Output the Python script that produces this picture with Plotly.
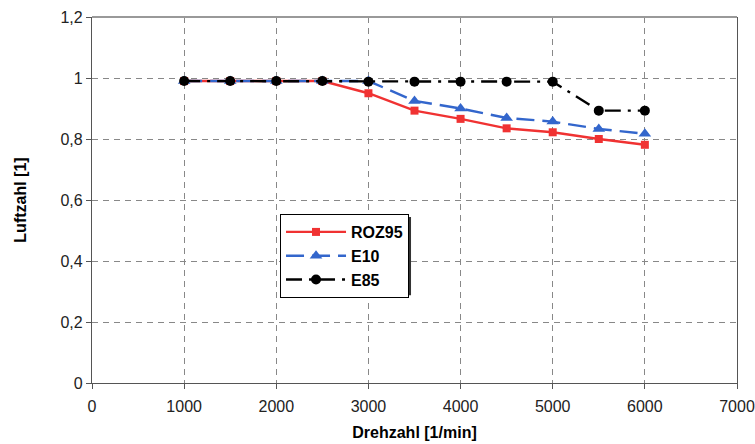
import plotly.graph_objects as go

drehzahl = [1000, 1500, 2000, 2500, 3000, 3500, 4000, 4500, 5000, 5500, 6000]
roz95 = [0.99, 0.99, 0.99, 0.99, 0.950, 0.893, 0.866, 0.835, 0.822, 0.800, 0.781]
e10 = [0.99, 0.99, 0.99, 0.99, 0.99, 0.925, 0.900, 0.869, 0.857, 0.833, 0.817]
e85 = [0.99, 0.99, 0.99, 0.99, 0.988, 0.988, 0.988, 0.988, 0.988, 0.893, 0.893]

x_ticks = [0, 1000, 2000, 3000, 4000, 5000, 6000, 7000]
y_ticks = [0, 0.2, 0.4, 0.6, 0.8, 1.0, 1.2]
y_labels = ["0", "0,2", "0,4", "0,6", "0,8", "1", "1,2"]

fig = go.Figure()
fig.add_trace(go.Scatter(x=drehzahl, y=roz95, name="ROZ95", mode="lines+markers",
                         line=dict(color="#F03232", width=2.4),
                         marker=dict(symbol="square", size=8, color="#F03232")))
fig.add_trace(go.Scatter(x=drehzahl, y=e10, name="E10", mode="lines+markers",
                         line=dict(color="#3366CC", width=2.4, dash="18px,8px"),
                         marker=dict(symbol="triangle-up", size=11, color="#3366CC")))
fig.add_trace(go.Scatter(x=drehzahl, y=e85, name="E85", mode="lines+markers",
                         line=dict(color="#000000", width=2.4, dash="16px,7px,3px,7px"),
                         marker=dict(symbol="circle", size=10, color="#000000")))

font_family = "Liberation Sans, Arial, sans-serif"

fig.update_layout(
    width=755, height=444,
    margin=dict(l=92, r=18, t=17, b=61, autoexpand=False),
    paper_bgcolor="white", plot_bgcolor="white",
    font=dict(family=font_family, size=16, color="#222"),
    showlegend=True,
    legend=dict(x=0.2915, y=0.4617, xanchor="left", yanchor="top",
                bgcolor="white", bordercolor="black", borderwidth=1,
                font=dict(family=font_family, size=16, color="black", weight="bold"),
                itemwidth=60),
    xaxis=dict(range=[0, 7000], tickvals=x_ticks, showgrid=True,
               gridcolor="#888", griddash="6px,5px", gridwidth=1,
               showline=True, linecolor="#555", linewidth=1.3,
               ticks="outside", ticklen=5, tickcolor="#555",
               ticklabelstandoff=4, zeroline=False, automargin=False,
               title=dict(text="<b>Drehzahl [1/min]</b>", font=dict(size=16, color="black"), standoff=12)),
    yaxis=dict(range=[0, 1.2], tickvals=y_ticks, ticktext=y_labels, showgrid=True,
               gridcolor="#888", griddash="6px,5px", gridwidth=1,
               showline=True, linecolor="#555", linewidth=1.3, mirror=True,
               ticks="outside", ticklen=5, tickcolor="#555",
               zeroline=False, automargin=False,
               title=dict(text="<b>Luftzahl [1]</b>", font=dict(size=16, color="black"), standoff=29)),
)

# top border (lighter grey)
fig.add_shape(type="line", xref="paper", yref="paper", x0=0, x1=1, y0=1, y1=1,
              line=dict(color="#999", width=2))
# legend shadow
fig.add_shape(type="rect", xref="paper", yref="paper",
              x0=0.296, x1=0.4946, y0=0.24, y1=0.4536,
              fillcolor="#333", line=dict(width=0), layer="above")

fig.write_html("out.html")
